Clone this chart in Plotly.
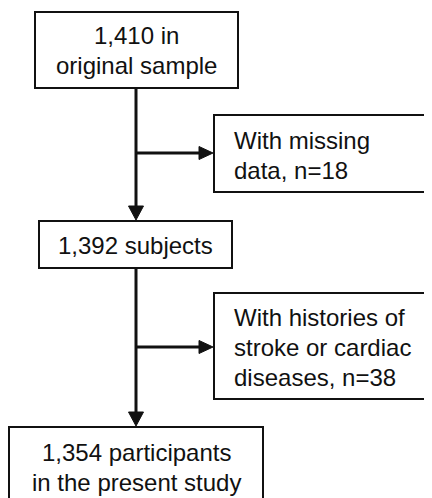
import plotly.graph_objects as go

# Flowchart content
main_labels = [["1,410 in", "original sample"], ["1,392 subjects"], ["1,354 participants", "in the present study"]]
side_labels = [["With missing", "data, n=18"], ["With histories of", "stroke or cardiac", "diseases, n=38"]]

# Layout geometry (window pixel space)
main_boxes = [(35, 12, 238, 88), (39, 221, 232, 268), (9, 427, 263, 520)]
main_text_y = [[35, 65], [245], [452, 482]]
side_boxes = [(214, 115, 450, 192), (214, 293, 450, 399)]
side_text_y = [[140, 170], [317, 347, 377]]
side_arrow_y = [153, 347]
spine_x = 136
text_x_side = 232

PAGE_OFFSET = 8  # default body margin of the page

FONT = "Liberation Sans, Arial, sans-serif"
fig = go.Figure()
shapes = []
ann = []

for (x0, y0, x1, y1), lines, ys in zip(main_boxes, main_labels, main_text_y):
    shapes.append(dict(type="rect", xref="x", yref="y", x0=x0, y0=y0, x1=x1, y1=y1,
                       line=dict(color="#111", width=2), fillcolor="white"))
    for t, y in zip(lines, ys):
        ann.append(dict(x=(x0 + x1) / 2, y=y, text=t, showarrow=False, xref="x", yref="y",
                        xanchor="center", yanchor="middle", font=dict(family=FONT, size=24, color="#111")))

for (x0, y0, x1, y1), lines, ys in zip(side_boxes, side_labels, side_text_y):
    shapes.append(dict(type="rect", xref="x", yref="y", x0=x0, y0=y0, x1=x1, y1=y1,
                       line=dict(color="#111", width=2), fillcolor="white"))
    for t, y in zip(lines, ys):
        ann.append(dict(x=text_x_side, y=y, text=t, showarrow=False, xref="x", yref="y",
                        xanchor="left", yanchor="middle", font=dict(family=FONT, size=24, color="#111")))

# vertical spines with arrowheads
for i in range(len(main_boxes) - 1):
    ytop = main_boxes[i][3]
    ybot = main_boxes[i + 1][1]
    shapes.append(dict(type="line", xref="x", yref="y", x0=spine_x, x1=spine_x, y0=ytop, y1=ybot - 12,
                       line=dict(color="#111", width=3)))
    shapes.append(dict(type="path", xref="x", yref="y",
                       path=f"M {spine_x-7.5},{ybot-15} L {spine_x+7.5},{ybot-15} L {spine_x},{ybot-1} Z",
                       fillcolor="#111", line=dict(color="#111", width=1)))

# horizontal arrows to side boxes
for (bx0, _, _, _), ay in zip(side_boxes, side_arrow_y):
    shapes.append(dict(type="line", xref="x", yref="y", x0=spine_x, x1=bx0 - 12, y0=ay, y1=ay,
                       line=dict(color="#111", width=3)))
    shapes.append(dict(type="path", xref="x", yref="y",
                       path=f"M {bx0-15},{ay-6.5} L {bx0-15},{ay+6.5} L {bx0-1},{ay} Z",
                       fillcolor="#111", line=dict(color="#111", width=1)))

fig.update_layout(
    width=432, height=498, margin=dict(l=0, r=0, t=0, b=0),
    paper_bgcolor="white", plot_bgcolor="white",
    xaxis=dict(range=[PAGE_OFFSET, 432 + PAGE_OFFSET], visible=False, fixedrange=True),
    yaxis=dict(range=[498 + PAGE_OFFSET, PAGE_OFFSET], visible=False, fixedrange=True),
    shapes=shapes, annotations=ann, showlegend=False,
)
fig.write_html("out.html")
